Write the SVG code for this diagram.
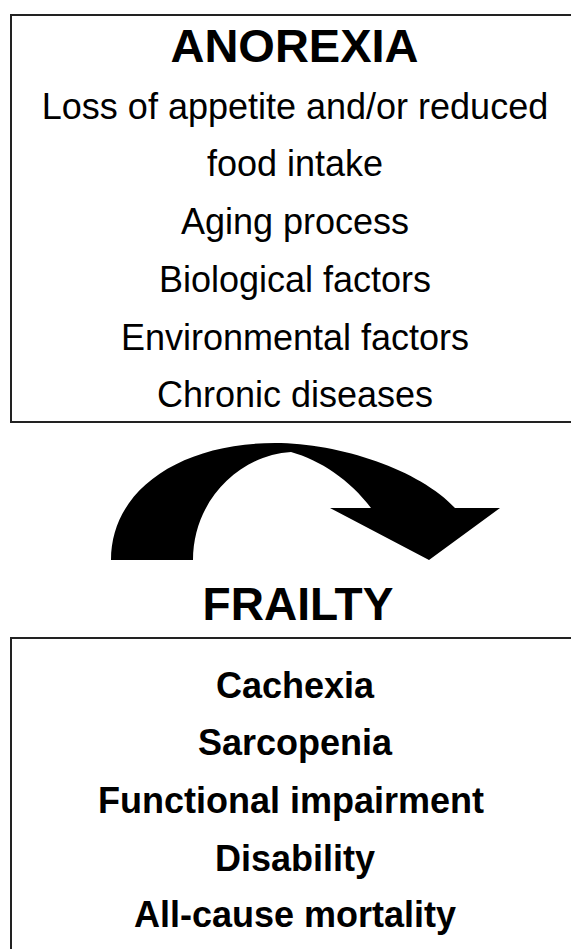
<svg xmlns="http://www.w3.org/2000/svg" width="571" height="949" viewBox="0 0 571 949">
<style>
.box{fill:#fff;stroke:#222;stroke-width:2}
.t{font-family:"Liberation Sans",Arial,sans-serif;font-size:36px;fill:#000;text-anchor:middle}
.b{font-weight:bold}
.h{font-family:"Liberation Sans",Arial,sans-serif;font-weight:bold;fill:#000;text-anchor:middle}
</style>
<rect width="571" height="949" fill="#fff"/>
<g id="anorexia">
<rect class="box" x="11" y="15" width="580" height="407"/>
<text class="h" x="294.5" y="62" font-size="47">ANOREXIA</text>
<text class="t" x="295" y="119">Loss of appetite and/or reduced</text>
<text class="t" x="295" y="176">food intake</text>
<text class="t" x="295" y="234">Aging process</text>
<text class="t" x="295" y="292">Biological factors</text>
<text class="t" x="295" y="350">Environmental factors</text>
<text class="t" x="295" y="407">Chronic diseases</text>
</g>
<g id="connectors">
<path d="M111,560 C111,490 180,443 275,443 C340,443 420,470 455,508 L500,508 L429,560 L330,508 L371,508 C350,480 320,460 291,452 C240,455 193,500 193,560 Z" fill="#000"/>
</g>
<g id="frailty-title">
<text class="h" x="298" y="620" font-size="46">FRAILTY</text>
</g>
<g id="frailty">
<rect class="box" x="11" y="638" width="580" height="330"/>
<text class="t b" x="295" y="698">Cachexia</text>
<text class="t b" x="295" y="755">Sarcopenia</text>
<text class="t b" x="291" y="813">Functional impairment</text>
<text class="t b" x="295" y="871">Disability</text>
<text class="t b" x="295" y="927">All-cause mortality</text>
</g>
</svg>
